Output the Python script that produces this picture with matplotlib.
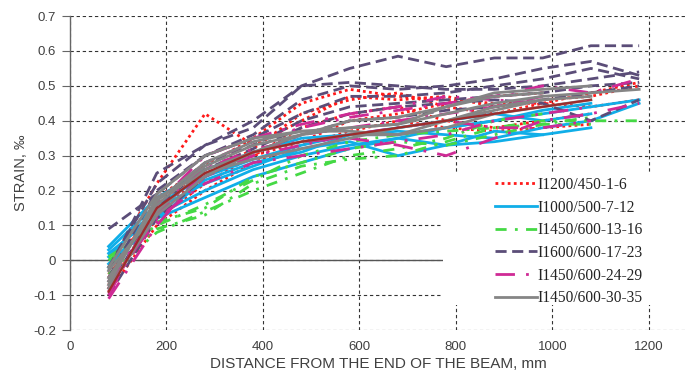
import matplotlib
matplotlib.use("Agg")
import matplotlib.pyplot as plt
from matplotlib.patches import Rectangle
import numpy as np

# distance from the end of the beam, mm
dist = [80, 180, 280, 380, 480, 580, 680, 780, 880, 980, 1080, 1180]

# strain, per mille (each list starts at dist[0]; shorter lists end earlier)
red_1_6 = [
    [-0.02, 0.22, 0.42, 0.33, 0.40, 0.47, 0.46, 0.47, 0.44, 0.46, 0.47, 0.50],
    [-0.05, 0.18, 0.27, 0.35, 0.45, 0.49, 0.47, 0.46, 0.45, 0.45, 0.44, 0.46],
    [-0.08, 0.14, 0.24, 0.32, 0.42, 0.46, 0.48, 0.44, 0.42, 0.45, 0.48, 0.51],
    [-0.07, 0.12, 0.22, 0.30, 0.38, 0.42, 0.44, 0.40, 0.38, 0.40, 0.42],
    [-0.04, 0.16, 0.25, 0.30, 0.34, 0.40, 0.42, 0.45, 0.47, 0.48],
    [-0.09, 0.10, 0.20, 0.28, 0.33, 0.37, 0.40, 0.38, 0.37, 0.38, 0.39],
]
blue_7_12 = [
    [0.04, 0.18, 0.26, 0.31, 0.35, 0.36, 0.36, 0.38, 0.40, 0.42, 0.44, 0.46],
    [0.02, 0.13, 0.20, 0.26, 0.30, 0.33, 0.35, 0.33, 0.34, 0.36, 0.38],
    [-0.02, 0.12, 0.23, 0.28, 0.31, 0.36, 0.37, 0.36, 0.35, 0.38, 0.40, 0.45],
    [0.01, 0.15, 0.22, 0.27, 0.32, 0.34, 0.30, 0.33, 0.37, 0.36],
    [-0.01, 0.12, 0.18, 0.24, 0.28, 0.32, 0.35, 0.38, 0.40, 0.43, 0.45],
    [0.03, 0.16, 0.24, 0.29, 0.33, 0.36, 0.38, 0.40, 0.42, 0.40, 0.42],
]
green_13_16 = [
    [-0.02, 0.09, 0.13, 0.22, 0.27, 0.29, 0.30, 0.34, 0.38, 0.40, 0.40, 0.40],
    [0.00, 0.11, 0.15, 0.24, 0.28, 0.32, 0.34, 0.33, 0.36, 0.39, 0.41],
    [-0.04, 0.08, 0.14, 0.20, 0.25, 0.30, 0.32, 0.35, 0.40, 0.42],
    [0.01, 0.10, 0.16, 0.23, 0.30, 0.34, 0.36, 0.37, 0.38, 0.39, 0.39],
]
purple_17_23 = [
    [-0.02, 0.22, 0.33, 0.40, 0.50, 0.55, 0.585, 0.555, 0.58, 0.58, 0.615, 0.615],
    [0.09, 0.19, 0.30, 0.36, 0.46, 0.50, 0.49, 0.50, 0.52, 0.55, 0.57, 0.53],
    [-0.03, 0.25, 0.33, 0.38, 0.50, 0.51, 0.50, 0.49, 0.49, 0.50, 0.52, 0.54],
    [-0.05, 0.20, 0.30, 0.35, 0.42, 0.47, 0.47, 0.48, 0.50, 0.52, 0.55, 0.52],
    [-0.06, 0.17, 0.28, 0.33, 0.40, 0.44, 0.45, 0.46, 0.47, 0.48, 0.50, 0.51],
    [-0.08, 0.15, 0.26, 0.32, 0.38, 0.42, 0.44, 0.45, 0.46, 0.45, 0.40, 0.46],
    [-0.10, 0.12, 0.24, 0.31, 0.36, 0.40, 0.41, 0.43, 0.44, 0.46, 0.48, 0.50],
]
magenta_24_29 = [
    [-0.11, 0.10, 0.26, 0.32, 0.34, 0.35, 0.33, 0.30, 0.35, 0.40, 0.42, 0.45],
    [-0.08, 0.14, 0.28, 0.34, 0.38, 0.41, 0.43, 0.45, 0.47, 0.50, 0.48, 0.52],
    [-0.05, 0.12, 0.22, 0.28, 0.30, 0.32, 0.34, 0.36, 0.40, 0.42, 0.44],
    [-0.10, 0.16, 0.30, 0.35, 0.39, 0.42, 0.44, 0.47, 0.46, 0.45],
    [-0.06, 0.11, 0.24, 0.30, 0.33, 0.36, 0.38, 0.40, 0.38, 0.38, 0.40],
    [-0.09, 0.13, 0.27, 0.31, 0.36, 0.38, 0.40, 0.42, 0.44, 0.47],
]
gray_30_35 = [
    [-0.05, 0.16, 0.27, 0.33, 0.36, 0.38, 0.39, 0.42, 0.45, 0.47, 0.48, 0.49],
    [-0.08, 0.13, 0.24, 0.31, 0.36, 0.40, 0.41, 0.44, 0.48, 0.49, 0.50],
    [-0.02, 0.19, 0.30, 0.35, 0.37, 0.37, 0.36, 0.38, 0.42, 0.44, 0.46],
    [-0.06, 0.17, 0.28, 0.34, 0.37, 0.38, 0.39, 0.44, 0.47, 0.48],
    [-0.03, 0.14, 0.26, 0.31, 0.34, 0.36, 0.36, 0.40, 0.44, 0.46, 0.47],
    [-0.07, 0.18, 0.25, 0.29, 0.32, 0.35, 0.38, 0.40, 0.43, 0.46],
]
maroon_extra = [-0.09, 0.15, 0.25, 0.31, 0.34, 0.36, 0.38, 0.40, 0.42, 0.44, 0.46]

GROUPS = [
    ("I1200/450-1-6",   red_1_6,       "#ff1a1a", (0, (1, 1.2))),
    ("I1000/500-7-12",  blue_7_12,     "#10aee8", "-"),
    ("I1450/600-13-16", green_13_16,   "#45d945", (0, (4, 3, 1, 3))),
    ("I1600/600-17-23", purple_17_23,  "#5b4d78", (0, (4, 2))),
    ("I1450/600-24-29", magenta_24_29, "#cf2a95", (0, (7, 4, 1, 4))),
    ("I1450/600-30-35", gray_30_35,    "#858585", "-"),
]

TICK_FONT = ["Liberation Sans Narrow", "Liberation Sans", "DejaVu Sans"]
TEXT_COL = "#404040"

fig = plt.figure(figsize=(6.88, 3.83), dpi=100)
ax = fig.add_axes([0.1017, 0.138, 0.8953, 0.82])

handles = []
for label, series, color, ls in GROUPS:
    for i, ys in enumerate(series):
        ln, = ax.plot(dist[:len(ys)], ys, color=color, linestyle=ls, linewidth=2.0,
                      label=label if i == 0 else None, zorder=3)
        if i == 0:
            handles.append(ln)
ax.plot(dist[:len(maroon_extra)], maroon_extra, color="#9e2b2b", linewidth=1.6, zorder=3)

ax.set_xlim(0, 1277)
ax.set_ylim(-0.2, 0.7)
ax.set_xticks(np.arange(0, 1201, 200))
ax.set_yticks(np.round(np.arange(-0.2, 0.71, 0.1), 1))
ax.set_yticklabels(["-0.2", "-0.1", "0", "0.1", "0.2", "0.3", "0.4", "0.5", "0.6", "0.7"])

ax.grid(True, color="#333333", linestyle=(0, (3, 2.5)), linewidth=0.8, zorder=1)
ax.axhline(0, color="#555555", linewidth=1.0, zorder=2)
for s in ["top", "right", "bottom"]:
    ax.spines[s].set_visible(False)
ax.spines["left"].set_color("#666666")
ax.spines["left"].set_linewidth(1.0)
ax.tick_params(axis="y", direction="out", length=6, color="#666666", labelcolor=TEXT_COL,
               labelsize=9.5, pad=4)
ax.tick_params(axis="x", length=0, labelcolor=TEXT_COL, labelsize=9.5, pad=8)
for t in ax.get_xticklabels() + ax.get_yticklabels():
    t.set_family(TICK_FONT)

ax.set_xlabel("DISTANCE FROM THE END OF THE BEAM, mm", family=TICK_FONT,
              fontsize=11, color=TEXT_COL, labelpad=3)
ax.set_ylabel("STRAIN, ‰", family=TICK_FONT, fontsize=10.5, color=TEXT_COL, labelpad=4)

# white legend area (covers gridlines behind the legend)
ax.add_patch(Rectangle((0.605, 0.08), 0.395, 0.42, transform=ax.transAxes,
                       facecolor="white", edgecolor="none", zorder=4))

leg = ax.legend(handles=handles, loc="center left", bbox_to_anchor=(0.69, 0.282),
                prop={"family": "Liberation Serif", "size": 11.2},
                frameon=False, handlelength=2.7, handletextpad=0.05,
                labelspacing=0.43, borderpad=0, borderaxespad=0)
leg.set_zorder(5)
for t in leg.get_texts():
    t.set_color("#222222")

fig.savefig("out.png", dpi=100)
